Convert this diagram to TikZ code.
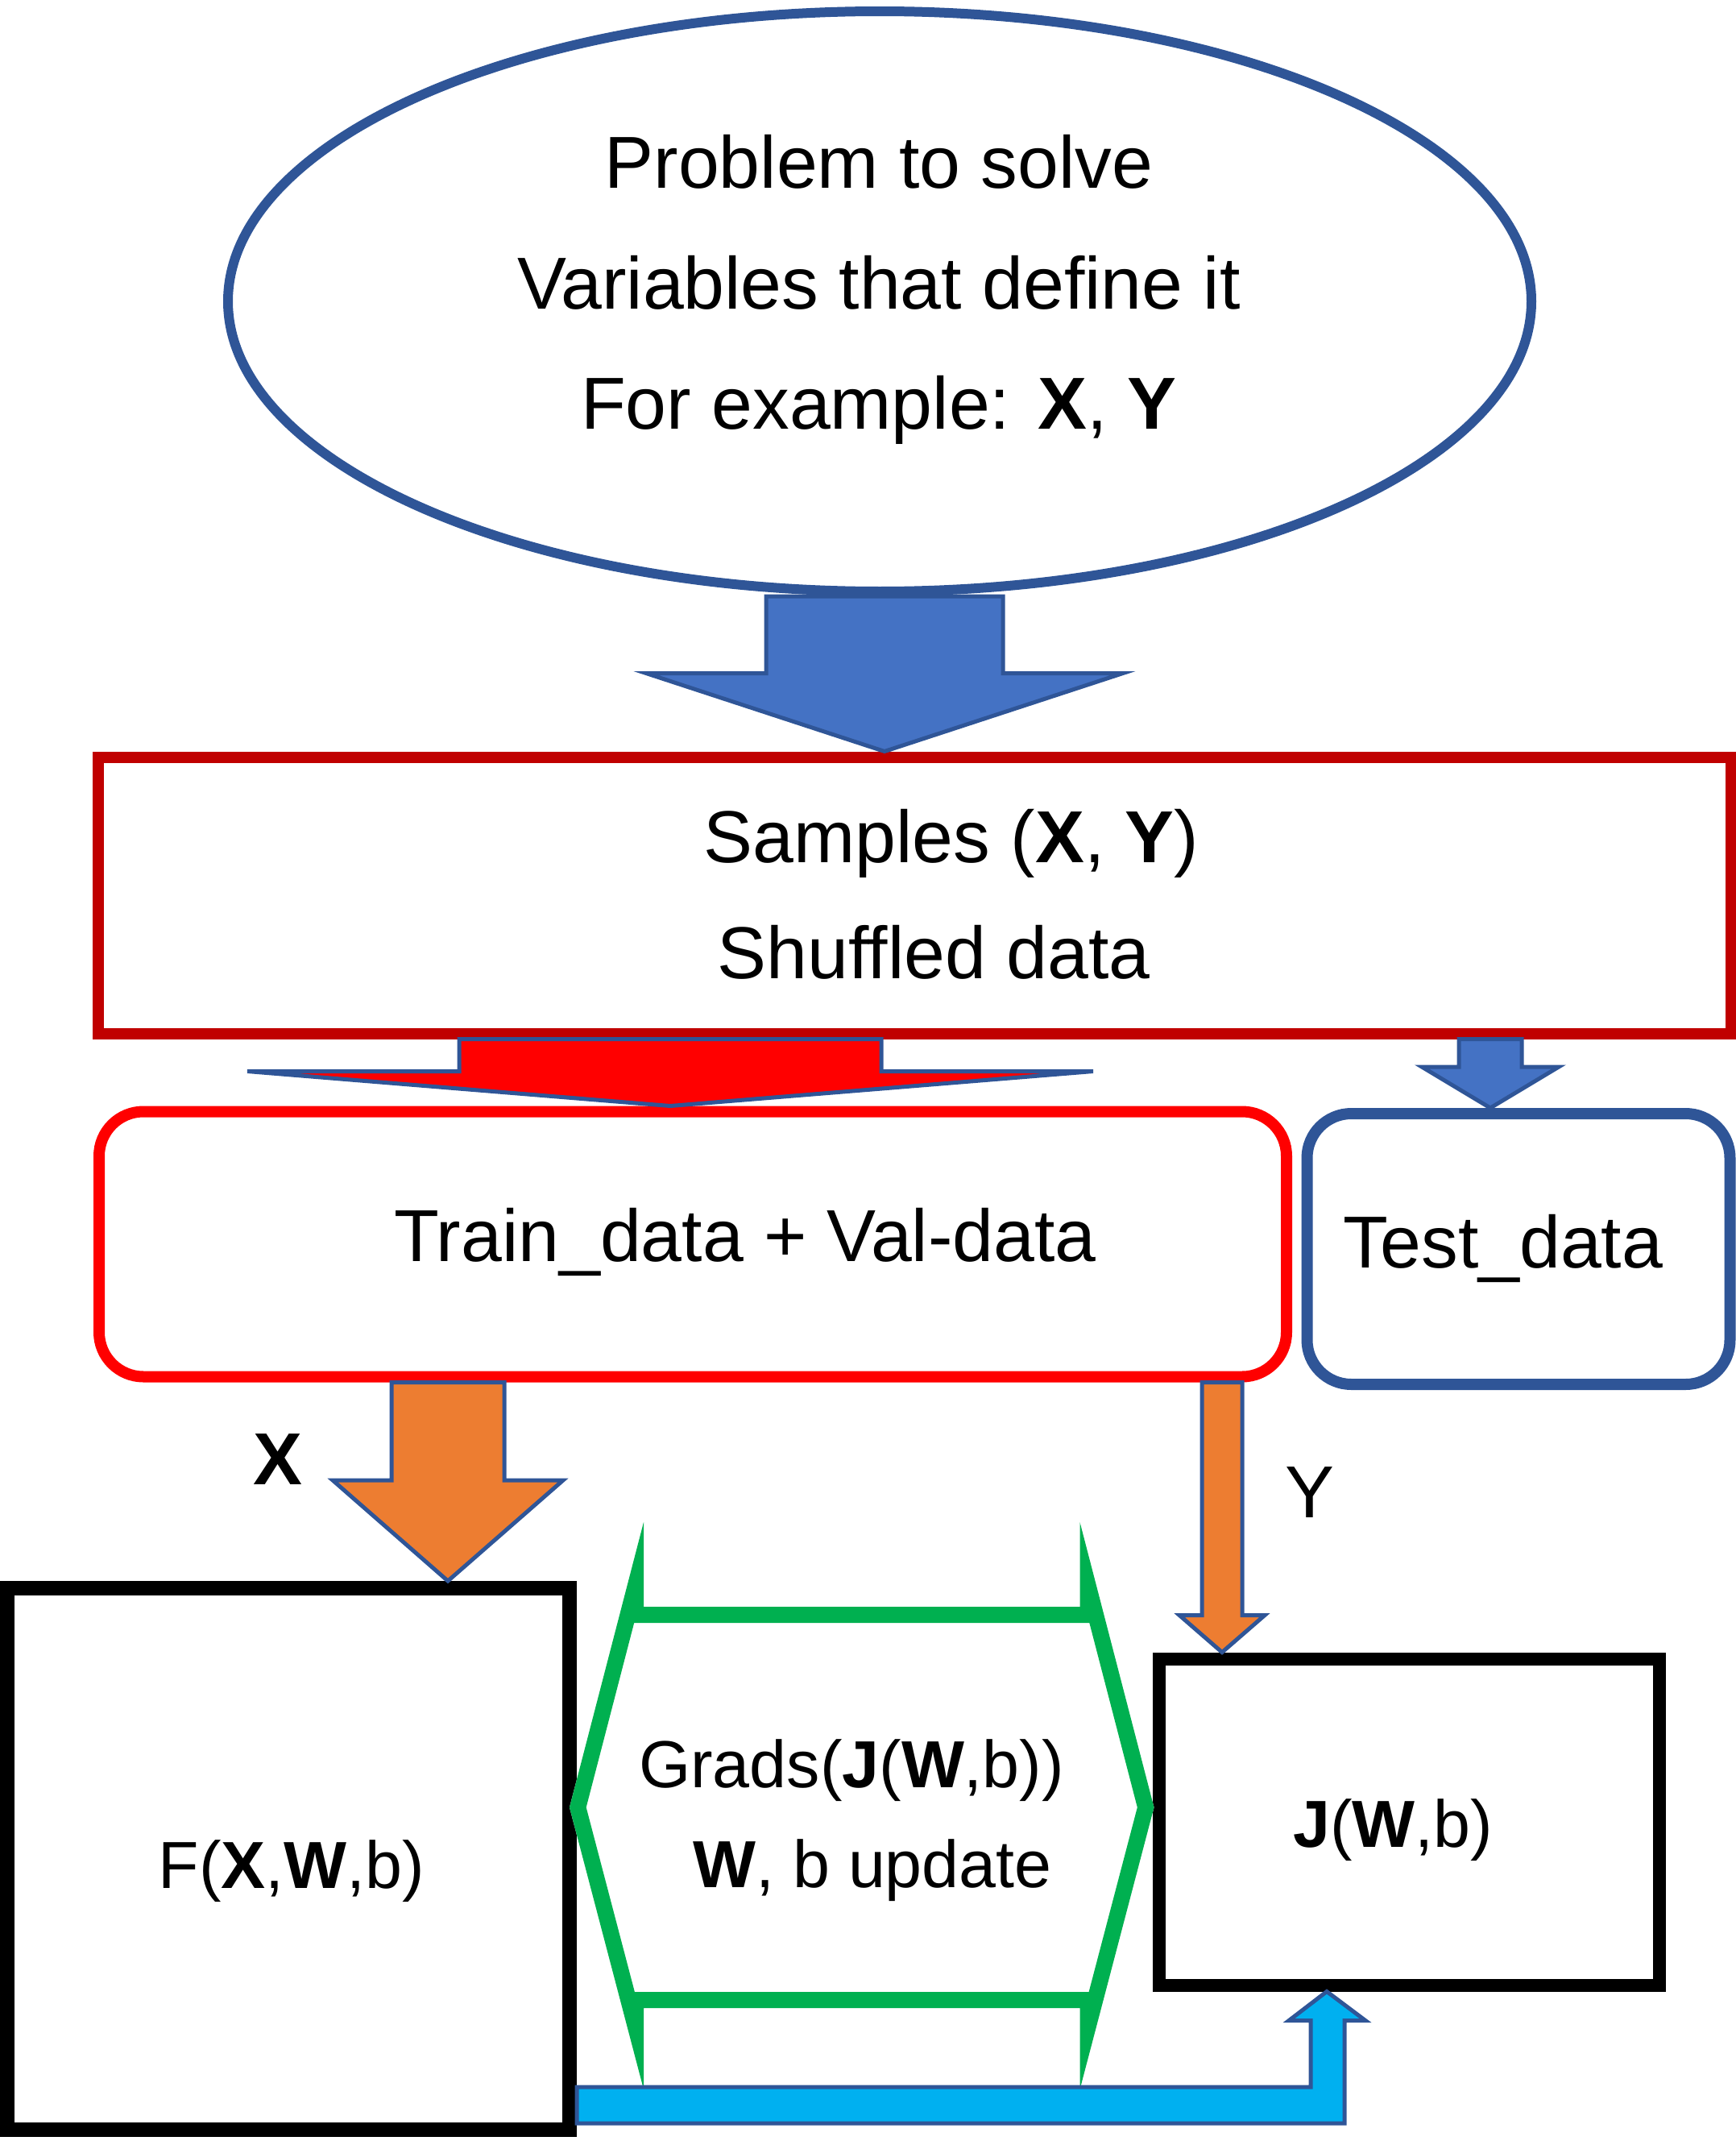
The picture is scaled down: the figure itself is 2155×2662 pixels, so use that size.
\documentclass[tikz,border=0pt]{standalone}
\usepackage{fontspec}
\setmainfont{Liberation Sans}
\usetikzlibrary{calc,positioning,shapes.geometric}
\definecolor{outblue}{HTML}{2F5597}
\definecolor{fillblue}{HTML}{4472C4}
\definecolor{darkred}{HTML}{C00000}
\definecolor{xyorange}{HTML}{ED7D31}
\definecolor{gradgreen}{HTML}{00B050}
\definecolor{loopcyan}{HTML}{00B0F0}
\tikzset{
  ovalbox/.style  = {draw=outblue, line width=1.2mm, ellipse, inner sep=0pt,
                     minimum width=161.8mm, minimum height=72mm},
  databox/.style  = {draw, line width=1.4mm, rectangle, inner sep=0pt},
  roundbox/.style = {databox, rounded corners=5.5mm},
  funcbox/.style  = {draw=black, rectangle, inner sep=0pt},
  bigtxt/.style   = {font=\fontsize{26}{31}\selectfont, inner sep=0pt, anchor=base},
  midtxt/.style   = {font=\fontsize{23.5}{28}\selectfont, inner sep=0pt, anchor=base},
  fatarrow/.style = {draw=outblue, line width=0.5mm, line join=miter},
}
% block arrow pointing down: style, top point, tip point, shaft half, head half, head length
\newcommand{\fatdown}[6]{%
  \draw[#1] ($(#2)+(-#4,0)$) -- ($(#2)+(#4,0)$) -- ($(#3)+(#4,-#6)$) -- ($(#3)+(#5,-#6)$)
    -- (#3) -- ($(#3)+(-#5,-#6)$) -- ($(#3)+(-#4,-#6)$) -- cycle;}
% outline of the two-headed gradient arrow
\newcommand{\gradshape}{(gl) -- ++(92,-354) -- ++(0,105) -- ($(gr)+(-92,-249)$) -- ++(0,-105)
    -- (gr) -- ++(-92,350) -- ++(0,-101) -- ($(gl)+(92,249)$) -- ++(0,101) -- cycle}

\begin{document}
\begin{tikzpicture}[x=0.1mm,y=-0.1mm]
\useasboundingbox (0,0) rectangle (2155,2662);
% boxes
\node[ovalbox] (problem) at (1092,374) {};
\node[databox, draw=darkred, minimum width=202.7mm, minimum height=34.3mm] (samples) at (1135,1111) {};
\node[roundbox, draw=red, minimum width=147.4mm, minimum height=32.9mm] (train) at (860,1544) {};
\node[roundbox, draw=outblue, minimum width=52.5mm, minimum height=33.6mm] (testset) at (1885,1550) {};
\node[funcbox, line width=1.8mm, minimum width=69.8mm, minimum height=67.2mm] (fbox) at (358,2307) {};
\node[funcbox, line width=1.6mm, minimum width=62.1mm, minimum height=40.5mm] (jbox) at (1749,2261) {};
% texts
\node[bigtxt] (prob1) at (1091,234) {Problem to solve};
\node[bigtxt] (prob2) at (1091,383) {Variables that define it};
\node[bigtxt] (prob3) at (1091,532) {For example: \textbf{X}, \textbf{Y}};
\node[bigtxt] (samp1) at (1181,1070) {Samples (\textbf{X}, \textbf{Y})};
\node[bigtxt] (samp2) at (1159,1214) {Shuffled data};
\node[bigtxt] (trainlab) at (925,1565) {Train\_data + Val-data};
\node[bigtxt] (testlab) at (1866,1573) {Test\_data};
\node[bigtxt] (xlab) at (345,1842) {\textbf{X}};
\node[bigtxt] (ylab) at (1626,1883) {Y};
\node[midtxt] (flab) at (362,2343) {F(\textbf{X},\textbf{W},b)};
\node[midtxt] (jlab) at (1729,2292) {\textbf{J}(\textbf{W},b)};
% block arrows
\coordinate (a1top) at (1098,0 |- problem.south);
\coordinate (a1tip) at (1098,0 |- samples.north);
\fatdown{fatarrow,fill=fillblue}{a1top}{a1tip}{147}{296}{97}
\coordinate (a2top) at (832,0 |- samples.south);
\coordinate (a2tip) at (832,0 |- train.north);
\fatdown{fatarrow,fill=red}{a2top}{a2tip}{262}{525}{43}
\coordinate (a3top) at (1850,0 |- samples.south);
\coordinate (a3tip) at (1850,0 |- testset.north);
\fatdown{fatarrow,fill=fillblue}{a3top}{a3tip}{39}{85}{51}
\coordinate (a4top) at (556,0 |- train.south);
\coordinate (a4tip) at (556,0 |- fbox.north);
\fatdown{fatarrow,fill=xyorange}{a4top}{a4tip}{70}{143}{125}
\coordinate (a5top) at (1517,0 |- train.south);
\coordinate (a5tip) at (1517,0 |- jbox.north);
\fatdown{fatarrow,fill=xyorange}{a5top}{a5tip}{25}{53}{46}
% gradient update arrow, stroke kept inside
\coordinate (gl) at ($(fbox.east |- 0,2243)+(-9,0)$);
\coordinate (gr) at ($(jbox.west |- 0,2243)+(2,0)$);
\fill[white] \gradshape;
\begin{scope}
  \clip \gradshape;
  \draw[gradgreen, line width=4mm, line join=miter] \gradshape;
\end{scope}
\node[midtxt] (grad1) at (1057,2218) {Grads(\textbf{J}(\textbf{W},b))};
\node[midtxt] (grad2) at (1083,2342) {\textbf{W}, b update};
% loop back from F to J
\coordinate (cstart) at (fbox.east |- 0,2590);
\coordinate (ctip) at (1647,0 |- jbox.south);
\draw[fatarrow, fill=loopcyan] (cstart) -| ($(ctip)+(-20,36)$) -- ++(-27,0) -- (ctip)
  -- ($(ctip)+(48,36)$) -- ++(-26,0) |- ($(cstart)+(0,45)$) -- cycle;
\end{tikzpicture}
\end{document}
